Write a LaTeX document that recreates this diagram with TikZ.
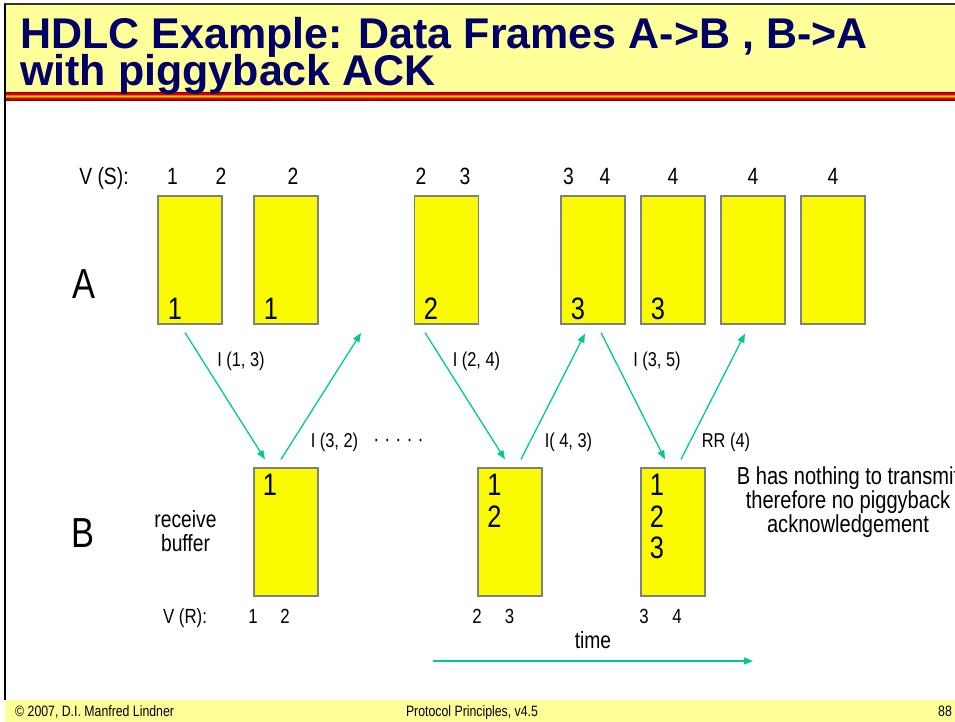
\documentclass[tikz,border=0pt]{standalone}
\usepackage{fontspec}
\setmainfont{Liberation Sans}
\newfontfamily\narrowfont[FakeStretch=0.82]{Liberation Sans}
\usetikzlibrary{arrows.meta,calc}
\definecolor{hdryellow}{HTML}{FFFF99}
\definecolor{boxyellow}{HTML}{FAFA00}
\definecolor{boxgray}{HTML}{808080}
\definecolor{msgteal}{HTML}{00C896}
\definecolor{titleblue}{HTML}{000066}
\definecolor{stripeA}{HTML}{800000}
\definecolor{stripeB}{HTML}{D00000}
\definecolor{stripeC}{HTML}{FF6600}
\definecolor{stripeD}{HTML}{FFCC00}
\definecolor{topline}{HTML}{333333}
\begin{document}
\begin{tikzpicture}[x=1pt,y=-1pt,
  abox/.style={draw=boxgray, fill=boxyellow, line width=1.2pt, minimum width=64pt, minimum height=128pt, inner sep=0pt},
  lbl/.style={inner sep=0pt, anchor=base, font=\narrowfont\fontsize{23.5}{24}\selectfont},
  nlbl/.style={inner sep=0pt, anchor=base, font=\narrowfont\fontsize{24.5}{25}\selectfont},
  rlbl/.style={inner sep=0pt, anchor=base, font=\narrowfont\fontsize{20.5}{21}\selectfont},
  num/.style={inner sep=0pt, anchor=base, font=\narrowfont\fontsize{31}{31}\selectfont},
  big/.style={inner sep=0pt, anchor=base, font=\narrowfont\fontsize{42}{42}\selectfont},
  arrlbl/.style={inner sep=0pt, anchor=base, font=\narrowfont\fontsize{20}{20}\selectfont},
  msg/.style={draw=msgteal, line width=1.3pt, -{Triangle[length=9pt,width=7pt]}},
  titlefont/.style={inner sep=0pt, anchor=base west, text=titleblue, font=\bfseries\fontsize{43}{43}\selectfont},
  foot/.style={inner sep=0pt, anchor=base, font=\narrowfont\fontsize{15}{15}\selectfont}
]
\useasboundingbox (0,0) rectangle (955,722);
% header
\fill[hdryellow] (5,5) rectangle (955,92);
\fill[stripeA] (5,92) rectangle (955,101);
\fill[stripeB] (5,93.3) rectangle (955,99.7);
\fill[stripeC] (5,94.6) rectangle (955,98.4);
\fill[stripeD] (5,95.9) rectangle (955,97.1);
\draw[topline, line width=2pt] (4,4) -- (955,4);
\draw[black, line width=2pt] (5,4) -- (5,700);
% footer
\fill[hdryellow] (5,700) rectangle (955,722);
\node[titlefont] (t1) at (20,49) {HDLC Example: Data Frames A->B , B->A};
\node[titlefont] (t2) at (20,86) {with piggyback ACK};
\node[foot, anchor=base west] (f1) at (15,716) {© 2007, D.I. Manfred Lindner};
\node[foot] (f2) at (472,716) {Protocol Principles, v4.5};
\node[foot, anchor=base west] (f3) at (938,716) {88};

% A boxes
\node[abox] (a1) at (190,260) {};
\node[abox] (a2) at (286,260) {};
\node[abox] (a3) at (446.5,260) {};
\node[abox] (a4) at (593,260) {};
\node[abox] (a5) at (673,260) {};
\node[abox] (a6) at (753,260) {};
\node[abox] (a7) at (833,260) {};
\node[num] (a1n) at (175,319) {1};
\node[num] (a2n) at (271,319) {1};
\node[num] (a3n) at (431,319) {2};
\node[num] (a4n) at (578,319) {3};
\node[num] (a5n) at (658,319) {3};
% B boxes
\node[abox] (b1) at (286,532) {};
\node[abox] (b2) at (510,532) {};
\node[abox] (b3) at (673,532) {};
\node[num] (b1n1) at (270,495) {1};
\node[num] (b2n1) at (494.5,495) {1};
\node[num] (b2n2) at (494.5,527) {2};
\node[num] (b3n1) at (657,495) {1};
\node[num] (b3n2) at (657,527) {2};
\node[num] (b3n3) at (657,558) {3};

% side labels
\node[big] (lA) at (84,298) {A};
\node[big] (lB) at (83,547) {B};
\node[lbl] (vs) at (104,185) {V (S):};
\node[lbl] (vs1) at (172.5,185) {1};
\node[lbl] (vs2) at (221,185) {2};
\node[lbl] (vs3) at (293,185) {2};
\node[lbl] (vs4) at (421,185) {2};
\node[lbl] (vs5) at (465,185) {3};
\node[lbl] (vs6) at (568.5,185) {3};
\node[lbl] (vs7) at (605,185) {4};
\node[lbl] (vs8) at (673,185) {4};
\node[lbl] (vs9) at (753,185) {4};
\node[lbl] (vs10) at (833,185) {4};
\node[lbl] (rb1) at (185.5,527) {receive};
\node[lbl] (rb2) at (185.5,551) {buffer};
\node[rlbl] (vr) at (185,623) {V (R):};
\node[rlbl] (vr1) at (253,623) {1};
\node[rlbl] (vr2) at (285,623) {2};
\node[rlbl] (vr3) at (477,623) {2};
\node[rlbl] (vr4) at (509.5,623) {3};
\node[rlbl] (vr5) at (644,623) {3};
\node[rlbl] (vr6) at (677,623) {4};
\node[nlbl] (n1) at (848,484) {B has nothing to transmit};
\node[nlbl] (n2) at (848,508) {therefore no piggyback};
\node[nlbl] (n3) at (848,532) {acknowledgement};

% messages
\coordinate (gap) at (361,333);
\draw[msg] ($(a1.south)+(-5,8)$) -- ($(b1.north)+(-21,-8)$);
\draw[msg] ($(b1.north)+(-5,-8)$) -- (gap);
\draw[msg] ($(a3.south)+(-21.5,8)$) -- ($(b2.north)+(-5,-8)$);
\draw[msg] ($(b2.north)+(11,-8)$) -- ($(a4.south)+(-8,9)$);
\draw[msg] ($(a4.south)+(8,8)$) -- ($(b3.north)+(-8,-8)$);
\draw[msg] ($(b3.north)+(8,-8)$) -- ($(a6.south)+(-8,9)$);
\node[arrlbl] (m1) at (241,366) {I (1, 3)};
\node[arrlbl] (m2) at (334.5,447) {I (3, 2)};
\node[arrlbl, font=\narrowfont\fontsize{22}{22}\selectfont] (dots) at (398.5,446) {· · · · ·};
\node[arrlbl] (m3) at (476.5,366) {I (2, 4)};
\node[arrlbl] (m4) at (568.5,447) {I( 4, 3)};
\node[arrlbl] (m5) at (657,366) {I (3, 5)};
\node[arrlbl] (m6) at (726,447) {RR (4)};

% time axis
\coordinate (t0) at (433,661);
\coordinate (t1e) at (753,661);
\draw[msg] (t0) -- (t1e);
\node[lbl] (time) at (593,648) {time};
\end{tikzpicture}
\end{document}
